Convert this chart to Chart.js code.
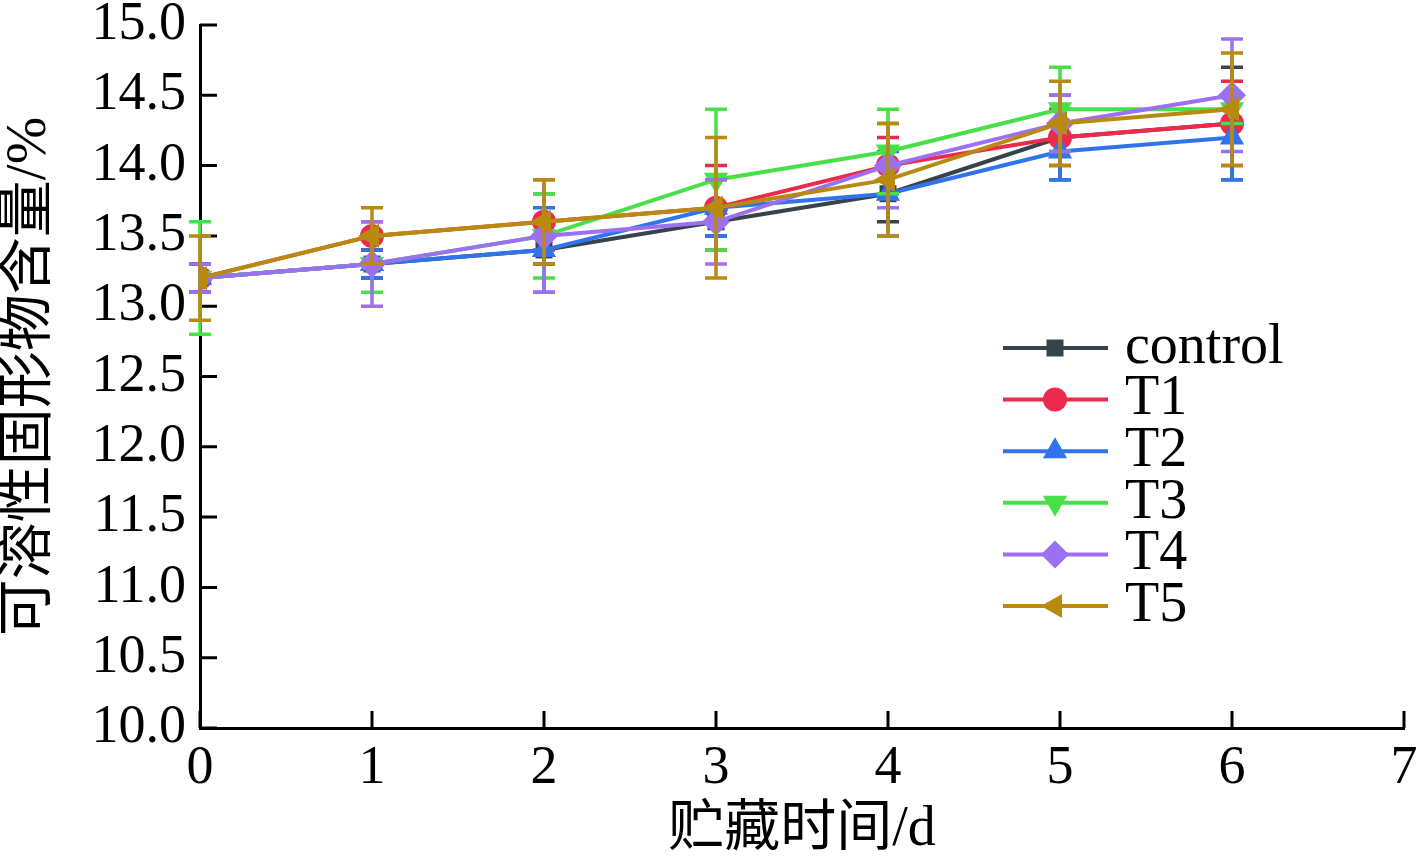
<!DOCTYPE html>
<html><head><meta charset="utf-8">
<script src="https://cdn.jsdelivr.net/npm/chart.js@4/dist/chart.umd.min.js"></script>
<style>html,body{margin:0;padding:0;background:#fff;overflow:hidden}#wrap{width:1418px;height:861px}</style>
</head><body><div id="wrap"><canvas id="c" width="1418" height="861"></canvas></div>
<script>
// ---- data ----
const days = [0, 1, 2, 3, 4, 5, 6];
const seriesNames = ['control', 'T1', 'T2', 'T3', 'T4', 'T5'];
const control = [13.2, 13.3, 13.4, 13.6, 13.8, 14.2, 14.3];
const t1 = [13.2, 13.5, 13.6, 13.7, 14.0, 14.2, 14.3];
const t2 = [13.2, 13.3, 13.4, 13.7, 13.8, 14.1, 14.2];
const t3 = [13.2, 13.3, 13.5, 13.9, 14.1, 14.4, 14.4];
const t4 = [13.2, 13.3, 13.5, 13.6, 14.0, 14.3, 14.5];
const t5 = [13.2, 13.5, 13.6, 13.7, 13.9, 14.3, 14.4];
const errControl = [0.1, 0.1, 0.1, 0.1, 0.2, 0.3, 0.4];
const errT1 = [0.1, 0.1, 0.2, 0.3, 0.2, 0.2, 0.3];
const errT2 = [0.1, 0.1, 0.3, 0.2, 0.3, 0.2, 0.3];
const errT3 = [0.4, 0.2, 0.3, 0.5, 0.3, 0.3, 0.1];
const errT4 = [0.1, 0.3, 0.4, 0.3, 0.3, 0.2, 0.4];
const errT5 = [0.3, 0.2, 0.3, 0.5, 0.4, 0.3, 0.4];
const xTitle = '贮藏时间/d';
const yTitle = '可溶性固形物含量/%';

const colors = ['#36434b', '#ec2a4b', '#2f74ec', '#48e048', '#9b70f2', '#b98a10'];
const styles = [
  {pointStyle: 'rect', rotation: 0, r: 12},
  {pointStyle: 'circle', rotation: 0, r: 12},
  {pointStyle: 'triangle', rotation: 0, r: 14},
  {pointStyle: 'triangle', rotation: 180, r: 14},
  {pointStyle: 'rectRot', rotation: 0, r: 14},
  {pointStyle: 'triangle', rotation: -90, r: 14}
];
const values = [control, t1, t2, t3, t4, t5];
const errors = [errControl, errT1, errT2, errT3, errT4, errT5];

const SERIF = "'Liberation Serif','Noto Sans CJK SC',serif";

const datasets = seriesNames.map((name, i) => ({
  label: name,
  data: days.map((d, j) => ({x: d, y: values[i][j]})),
  errors: errors[i],
  order: seriesNames.length - i,
  borderColor: colors[i],
  backgroundColor: colors[i],
  borderWidth: 4,
  pointStyle: styles[i].pointStyle,
  rotation: styles[i].rotation,
  pointRadius: styles[i].r,
  pointBorderWidth: 0,
  tension: 0
}));

const errorBarPlugin = {
  id: 'errbars',
  beforeDatasetDraw(chart, args) {
    const ds = chart.data.datasets[args.index];
    const xs = chart.scales.x, ys = chart.scales.y, ctx = chart.ctx;
    ctx.save();
    ctx.strokeStyle = ds.borderColor;
    ctx.lineWidth = 3.5;
    const cap = 11;
    ds.data.forEach((p, j) => {
      const e = ds.errors[j];
      const px = xs.getPixelForValue(p.x);
      const top = ys.getPixelForValue(p.y + e);
      const bot = ys.getPixelForValue(p.y - e);
      ctx.beginPath();
      ctx.moveTo(px, top); ctx.lineTo(px, bot);
      ctx.moveTo(px - cap, top); ctx.lineTo(px + cap, top);
      ctx.moveTo(px - cap, bot); ctx.lineTo(px + cap, bot);
      ctx.stroke();
    });
    ctx.restore();
  }
};

const innerTicksPlugin = {
  id: 'innerTicks',
  beforeDatasetsDraw(chart) {
    const ctx = chart.ctx, xs = chart.scales.x, ys = chart.scales.y;
    const len = 17;
    ctx.save();
    ctx.strokeStyle = '#000';
    ctx.lineWidth = 3;
    ctx.beginPath();
    ys.ticks.forEach((t, i) => {
      const y = ys.getPixelForTick(i);
      ctx.moveTo(ys.right, y); ctx.lineTo(ys.right + len, y);
    });
    xs.ticks.forEach((t, i) => {
      const x = xs.getPixelForTick(i);
      ctx.moveTo(x, xs.top); ctx.lineTo(x, xs.top - len);
    });
    ctx.stroke();
    ctx.restore();
  }
};

const legendPlugin = {
  id: 'customLegend',
  afterDraw(chart) {
    const ctx = chart.ctx;
    const x0 = 1003, x1 = 1108, mx = 1055, tx = 1125;
    const y0 = 348, step = 51.6;
    ctx.save();
    chart.data.datasets.forEach((ds, i) => {
      const y = y0 + i * step;
      ctx.strokeStyle = ds.borderColor;
      ctx.lineWidth = 4;
      ctx.beginPath(); ctx.moveTo(x0, y); ctx.lineTo(x1, y); ctx.stroke();
      ctx.fillStyle = ds.backgroundColor;
      Chart.helpers.drawPoint(ctx, {pointStyle: ds.pointStyle, rotation: ds.rotation, radius: ds.pointRadius, borderWidth: 0}, mx, y);
      ctx.fillStyle = '#000';
      ctx.font = "56px " + SERIF;
      ctx.textAlign = 'left';
      ctx.textBaseline = 'middle';
      ctx.fillText(ds.label, tx, y);
    });
    ctx.restore();
  }
};

new Chart(document.getElementById('c'), {
  type: 'line',
  data: {datasets},
  plugins: [errorBarPlugin, innerTicksPlugin, legendPlugin],
  options: {
    responsive: false,
    animation: false,
    layout: {padding: {top: 25, right: 10, left: 0, bottom: 0}},
    plugins: {legend: {display: false}, tooltip: {enabled: false}},
    scales: {
      x: {
        type: 'linear', min: 0, max: 7,
        ticks: {stepSize: 1, color: '#000', padding: 14, maxRotation: 0,
          font: {family: SERIF, size: 54, lineHeight: 1}},
        grid: {display: true, drawOnChartArea: false, drawTicks: false},
        border: {display: true, color: '#000', width: 3},
        title: {display: true, text: xTitle, color: '#000',
          font: {family: SERIF, size: 56, lineHeight: 1.1}, padding: {top: 0, bottom: 0}},
        afterFit(s) { s.height = 133; s.paddingLeft = 0; s.paddingRight = 0; }
      },
      y: {
        min: 10, max: 15,
        ticks: {stepSize: 0.5, color: '#000', padding: 14,
          callback: v => v.toFixed(1),
          font: {family: SERIF, size: 54, lineHeight: 1}},
        grid: {display: true, drawOnChartArea: false, drawTicks: false},
        border: {display: true, color: '#000', width: 3},
        title: {display: true, text: yTitle, color: '#000',
          font: {family: SERIF, size: 57, lineHeight: 1.07}, padding: {top: 0, bottom: 0}},
        afterFit(s) { s.width = 200; s.paddingTop = 0; s.paddingBottom = 0; }
      }
    }
  }
});
</script></body></html>
